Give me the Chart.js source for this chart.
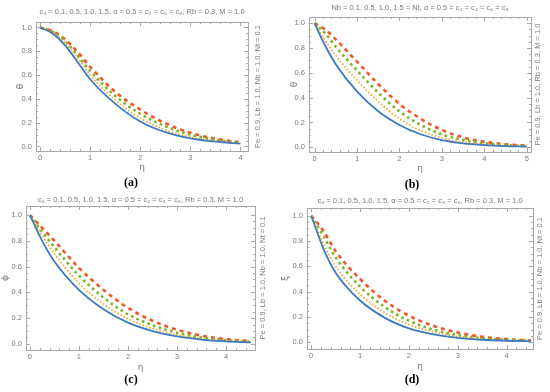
<!DOCTYPE html>
<html>
<head>
<meta charset="utf-8">
<script src="https://cdn.jsdelivr.net/npm/chart.js@4.4.1/dist/chart.umd.min.js"></script>
<style>
  body { margin: 0; background: #fff; width: 550px; height: 392px; position: relative; overflow: hidden; }
  canvas { position: absolute; }
</style>
</head>
<body>
<canvas id="chartA" width="275" height="196" style="left:0;top:0"></canvas>
<canvas id="chartB" width="275" height="196" style="left:275px;top:0"></canvas>
<canvas id="chartC" width="275" height="196" style="left:0;top:196px"></canvas>
<canvas id="chartD" width="275" height="196" style="left:275px;top:196px"></canvas>
<script>
// parameter values (same four values in every panel)
const paramValues = ['0.1', '0.5', '1.0', '1.5'];

// tick labels
const yTicks = [0, 0.2, 0.4, 0.6, 0.8, 1.0];
const xTicks4 = [0, 1, 2, 3, 4];
const xTicks5 = [0, 1, 2, 3, 4, 5];

// (a) theta vs eta, c4 varies
const etaA = [0, 0.25, 0.5, 0.75, 1, 1.5, 2, 2.5, 3, 3.5, 4];
const thetaA1 = [1, 0.95, 0.85, 0.71, 0.565, 0.36, 0.21, 0.12, 0.068, 0.04, 0.024];
const thetaA2 = [1, 0.96, 0.87, 0.745, 0.60, 0.39, 0.24, 0.14, 0.08, 0.046, 0.027];
const thetaA3 = [1, 0.965, 0.885, 0.765, 0.635, 0.425, 0.275, 0.17, 0.10, 0.056, 0.031];
const thetaA4 = [1, 0.97, 0.90, 0.795, 0.67, 0.46, 0.31, 0.195, 0.115, 0.065, 0.035];

// (b) theta vs eta, Nb = Nt varies
const etaB = [0, 0.25, 0.5, 1, 1.5, 2, 2.5, 3, 3.5, 4, 4.5, 5];
const thetaB1 = [1, 0.82, 0.67, 0.45, 0.29, 0.18, 0.105, 0.058, 0.032, 0.018, 0.010, 0.006];
const thetaB2 = [1, 0.86, 0.74, 0.54, 0.37, 0.23, 0.135, 0.077, 0.043, 0.024, 0.013, 0.007];
const thetaB3 = [1, 0.92, 0.81, 0.62, 0.44, 0.29, 0.18, 0.105, 0.06, 0.033, 0.018, 0.010];
const thetaB4 = [1, 0.95, 0.87, 0.69, 0.51, 0.35, 0.23, 0.14, 0.08, 0.045, 0.025, 0.014];

// (c) phi vs eta, c6 varies
const etaC = [0, 0.25, 0.5, 1, 1.5, 2, 2.5, 3, 3.5, 4, 4.5];
const phiC1 = [1, 0.80, 0.64, 0.42, 0.27, 0.165, 0.10, 0.058, 0.034, 0.020, 0.012];
const phiC2 = [1, 0.84, 0.70, 0.47, 0.31, 0.195, 0.12, 0.07, 0.04, 0.024, 0.014];
const phiC3 = [1, 0.87, 0.75, 0.53, 0.36, 0.23, 0.145, 0.087, 0.05, 0.029, 0.017];
const phiC4 = [1, 0.90, 0.80, 0.59, 0.42, 0.28, 0.18, 0.11, 0.064, 0.037, 0.021];

// (d) xi vs eta, c8 varies
const etaD = [0, 0.25, 0.5, 1, 1.5, 2, 2.5, 3, 3.5, 4, 4.5];
const xiD1 = [1, 0.74, 0.55, 0.33, 0.195, 0.11, 0.062, 0.035, 0.02, 0.012, 0.007];
const xiD2 = [1, 0.78, 0.60, 0.38, 0.235, 0.14, 0.082, 0.047, 0.027, 0.015, 0.009];
const xiD3 = [1, 0.84, 0.67, 0.44, 0.28, 0.17, 0.10, 0.058, 0.033, 0.019, 0.011];
const xiD4 = [1, 0.88, 0.72, 0.50, 0.33, 0.21, 0.13, 0.077, 0.044, 0.025, 0.014];

// line styles: solid blue, dotted orange, dotted green, dashed red
const lineColors = ['#3b79c3', '#f2a51e', '#7fb322', '#f0562a'];
const lineDashes = [[], [1.5, 2], [2.6, 3.4], [4, 4]];
const lineWidths = [1.8, 1.7, 2.6, 2.6];

const textGray = '#7a7a7a';
const frameGray = '#a8a8a8';
const sans = '"Liberation Sans", Arial, sans-serif';

// draws frame, inner ticks, title, rotated side label and panel caption
const panelDecor = {
  id: 'panelDecor',
  afterDraw(chart, args, opts) {
    const ctx = chart.ctx;
    const a = chart.chartArea;
    const xs = chart.scales.x, ys = chart.scales.y;
    ctx.save();
    ctx.strokeStyle = frameGray;
    ctx.lineWidth = 1;
    ctx.strokeRect(Math.round(a.left) + 0.5, Math.round(a.top) + 0.5,
      Math.round(a.right - a.left), Math.round(a.bottom - a.top));

    ctx.beginPath();
    const xt = opts.xTicks;
    for (let i = 0; i < xt.length; i++) {
      const px = Math.round(xs.getPixelForValue(xt[i])) + 0.5;
      ctx.moveTo(px, a.bottom); ctx.lineTo(px, a.bottom - 4);
      ctx.moveTo(px, a.top); ctx.lineTo(px, a.top + 4);
      for (let k = 1; k < 5; k++) {
        const v = xt[i] + k * 0.2;
        if (v > xs.max) break;
        const mx = Math.round(xs.getPixelForValue(v)) + 0.5;
        ctx.moveTo(mx, a.bottom); ctx.lineTo(mx, a.bottom - 2);
        ctx.moveTo(mx, a.top); ctx.lineTo(mx, a.top + 2);
      }
    }
    for (let i = 0; i < yTicks.length; i++) {
      const py = Math.round(ys.getPixelForValue(yTicks[i])) + 0.5;
      ctx.moveTo(a.left, py); ctx.lineTo(a.left + 4, py);
      ctx.moveTo(a.right, py); ctx.lineTo(a.right - 4, py);
      for (let k = 1; k < 4 && i < yTicks.length - 1; k++) {
        const my = Math.round(ys.getPixelForValue(yTicks[i] + k * 0.05)) + 0.5;
        ctx.moveTo(a.left, my); ctx.lineTo(a.left + 2, my);
        ctx.moveTo(a.right, my); ctx.lineTo(a.right - 2, my);
      }
    }
    ctx.stroke();

    ctx.fillStyle = textGray;
    ctx.textAlign = 'center';
    ctx.textBaseline = 'middle';
    ctx.font = '7.5px ' + sans;
    ctx.fillText(opts.title, (a.left + a.right) / 2, opts.titleY);

    ctx.font = '7.5px ' + sans;
    ctx.translate(opts.sideX, (a.top + a.bottom) / 2);
    ctx.rotate(-Math.PI / 2);
    ctx.fillText(opts.sideText, 0, 0);
    ctx.restore();

    ctx.save();
    ctx.fillStyle = '#000';
    ctx.font = 'bold 12px "Liberation Serif", "Times New Roman", serif';
    ctx.textAlign = 'center';
    ctx.textBaseline = 'middle';
    ctx.fillText(opts.caption, opts.captionX, opts.captionY);
    ctx.restore();
  }
};

function makePanel(id, p) {
  const datasets = p.series.map((vals, i) => ({
    label: p.paramName + ' = ' + paramValues[i],
    data: p.eta.map((x, j) => ({ x: x, y: vals[j] })),
    borderColor: lineColors[i],
    borderWidth: lineWidths[i],
    borderDash: lineDashes[i],
    borderCapStyle: 'butt',
    pointRadius: 0,
    fill: false,
    cubicInterpolationMode: 'monotone'
  }));
  return new Chart(document.getElementById(id), {
    type: 'line',
    data: { datasets: datasets },
    plugins: [panelDecor],
    options: {
      responsive: false,
      animation: false,
      layout: { padding: { left: 0, top: p.padTop, right: p.padRight, bottom: 0 } },
      plugins: {
        legend: { display: false },
        tooltip: { enabled: false },
        title: { display: false },
        panelDecor: {
          xTicks: p.xTicks,
          title: p.title,
          titleY: p.titleY,
          sideText: 'Pe = 0.9, Lb = 1.0, ' + p.side,
          sideX: p.sideX,
          caption: p.caption,
          captionX: p.captionX,
          captionY: p.captionY
        }
      },
      scales: {
        x: {
          type: 'linear',
          min: p.xMin, max: p.xMax,
          afterBuildTicks: s => { s.ticks = p.xTicks.map(v => ({ value: v })); },
          afterFit: s => { s.height = p.padBottom; },
          grid: { display: false, drawTicks: false },
          border: { display: false },
          ticks: {
            color: textGray, padding: 2,
            font: { size: 7.5, family: sans },
            callback: v => String(v)
          },
          title: {
            display: true, text: 'η', color: textGray,
            font: { size: 9, family: '"DejaVu Sans", sans-serif' },
            padding: { top: 0, bottom: p.etaBottom }
          }
        },
        y: {
          min: p.yMin, max: p.yMax,
          afterBuildTicks: s => { s.ticks = yTicks.map(v => ({ value: v })); },
          afterFit: s => { s.width = p.padLeft; },
          grid: { display: false, drawTicks: false },
          border: { display: false },
          ticks: {
            color: textGray, padding: 4,
            font: { size: 7.5, family: sans },
            callback: v => v.toFixed(1)
          },
          title: {
            display: true, text: p.yName, color: textGray,
            font: { size: 9, family: '"DejaVu Sans", sans-serif' },
            padding: { top: p.yTitlePad, bottom: 0 }
          }
        }
      }
    }
  });
}

makePanel('chartA', {
  title: 'c₄ = 0.1, 0.5, 1.0, 1.5, α = 0.5 = c₂ = c₆ = c₈, Rb = 0.3, M = 1.0',
  side: 'Nb = 1.0, Nt = 0.1', paramName: 'c₄', yName: 'θ', caption: '(a)',
  eta: etaA, series: [thetaA1, thetaA2, thetaA3, thetaA4], xTicks: xTicks4,
  xMin: -0.08, xMax: 4.15, yMin: -0.038, yMax: 1.046,
  padLeft: 36, padRight: 27, padBottom: 45, padTop: 22, titleY: 12,
  etaBottom: 22.6, yTitlePad: 15, sideX: 258, captionX: 131, captionY: 183
});

makePanel('chartB', {
  title: 'Nb = 0.1, 0.5, 1.0, 1.5 = Nt, α = 0.5 = c₂ = c₄ = c₆ = c₈',
  side: 'Rb = 0.3, M = 1.0', paramName: 'Nb', yName: 'θ', caption: '(b)',
  eta: etaB, series: [thetaB1, thetaB2, thetaB3, thetaB4], xTicks: xTicks5,
  xMin: -0.13, xMax: 5.1, yMin: -0.038, yMax: 1.05,
  padLeft: 34, padRight: 19, padBottom: 44, padTop: 17, titleY: 8,
  etaBottom: 21.5, yTitlePad: 14, sideX: 263, captionX: 137, captionY: 185
});

makePanel('chartC', {
  title: 'c₆ = 0.1, 0.5, 1.0, 1.5, α = 0.5 = c₂ = c₄ = c₈, Rb = 0.3, M = 1.0',
  side: 'Nb = 1.0, Nt = 0.1', paramName: 'c₆', yName: 'ϕ', caption: '(c)',
  eta: etaC, series: [phiC1, phiC2, phiC3, phiC4], xTicks: xTicks4,
  xMin: -0.08, xMax: 4.59, yMin: -0.047, yMax: 1.07,
  padLeft: 26, padRight: 20, padBottom: 42, padTop: 10, titleY: 4,
  etaBottom: 18.5, yTitlePad: 0, sideX: 263, captionX: 131, captionY: 184
});

makePanel('chartD', {
  title: 'c₈ = 0.1, 0.5, 1.0, 1.5, α = 0.5 = c₂ = c₄ = c₆, Rb = 0.3, M = 1.0',
  side: 'Nb = 1.0, Nt = 0.1', paramName: 'c₈', yName: 'ξ', caption: '(d)',
  eta: etaD, series: [xiD1, xiD2, xiD3, xiD4], xTicks: xTicks4,
  xMin: -0.086, xMax: 4.54, yMin: -0.053, yMax: 1.061,
  padLeft: 32, padRight: 17, padBottom: 43, padTop: 12, titleY: 4.5,
  etaBottom: 19.5, yTitlePad: 5, sideX: 265, captionX: 137, captionY: 184
});
</script>
</body>
</html>
